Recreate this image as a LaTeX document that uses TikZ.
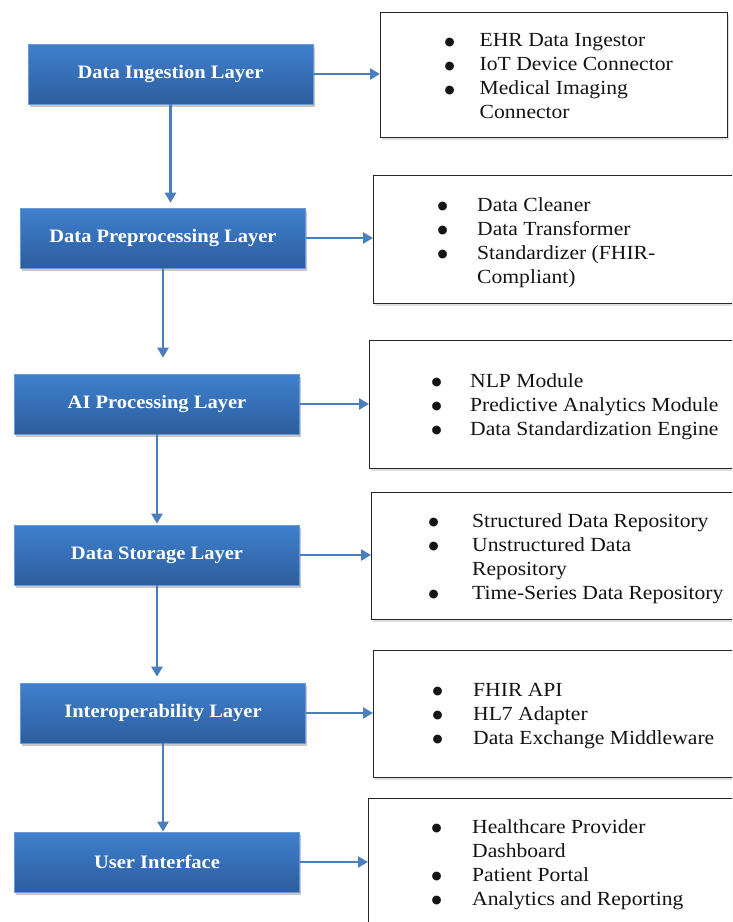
\documentclass[tikz,border=0pt]{standalone}
\usepackage{fontspec}
\setmainfont{Liberation Serif}[FakeStretch=1.08]
\newfontfamily\dotfont{DejaVu Sans}
\usetikzlibrary{arrows.meta,shadows}
\definecolor{boxtop}{HTML}{3F80CE}
\definecolor{boxbot}{HTML}{2D5E9E}
\definecolor{boxedge}{HTML}{6A9AD6}
\definecolor{arrowblue}{HTML}{4A7EBF}
\newcommand{\mkbullets}[2]{\begin{tabular}{@{}p{#1pt}@{}l@{}}#2\end{tabular}}
\newcommand{\bul}{\raisebox{1.8pt}{\dotfont\fontsize{11.5}{14}\selectfont ●}}
\begin{document}
\begin{tikzpicture}[x=1pt,y=-1pt,
  layer/.style={rectangle, minimum width=285pt, minimum height=60pt, inner sep=0pt,
    top color=boxtop, bottom color=boxbot, draw=boxedge, line width=0.6pt,
    text=white, font=\fontsize{19}{22}\selectfont\bfseries,
    drop shadow={shadow xshift=1.5pt, shadow yshift=-2.5pt, fill=black, opacity=0.22}},
  compbox/.style={rectangle, draw=black!85, line width=1.3pt, fill=white,
    anchor=north west, inner sep=0pt, minimum width=420pt,
    drop shadow={shadow xshift=1.5pt, shadow yshift=-2.5pt, fill=black, opacity=0.12}},
  items/.style={anchor=west, inner sep=0pt, text=black!92, font=\fontsize{20}{24}\selectfont},
  flow/.style={draw=arrowblue, line width=2.3pt, -{Triangle[width=11pt,length=10pt]}}]
\useasboundingbox (0,0) rectangle (732,922);
\clip (0,0) rectangle (732,922);

% left layer boxes
\node[layer] (b1) at (170.5,74) {Data Ingestion Layer};
\node[layer] (b2) at (163,238) {Data Preprocessing Layer};
\node[layer] (b3) at (157,404) {AI Processing Layer};
\node[layer] (b4) at (157,555) {Data Storage Layer};
\node[layer] (b5) at (163,713) {Interoperability Layer};
\node[layer] (b6) at (157,862) {User Interface};

% right component boxes
\node[compbox, minimum width=347pt, minimum height=125pt] (r1) at (380,12) {};
\node[compbox, minimum height=128pt] (r2) at (373,175) {};
\node[compbox, minimum height=128pt] (r3) at (369,340) {};
\node[compbox, minimum height=127pt] (r4) at (371,492) {};
\node[compbox, minimum height=127pt] (r5) at (373,650) {};
\node[compbox, minimum height=128pt] (r6) at (368,798) {};

% item lists
\node[items] (t1) at (444.5,78) {\mkbullets{35}{\bul & EHR Data Ingestor\\ \bul & IoT Device Connector\\ \bul & Medical Imaging\\ & Connector}};
\node[items] (t2) at (437.5,242.5) {\mkbullets{39.5}{\bul & Data Cleaner\\ \bul & Data Transformer\\ \bul & Standardizer (FHIR-\\ & Compliant)}};
\node[items] (t3) at (431.5,406.5) {\mkbullets{38.5}{\bul & NLP Module\\ \bul & Predictive Analytics Module\\ \bul & Data Standardization Engine}};
\node[items] (t4) at (428.5,558.5) {\mkbullets{43.5}{\bul & Structured Data Repository\\ \bul & Unstructured Data\\ & Repository\\ \bul & Time-Series Data Repository}};
\node[items] (t5) at (432.5,715.5) {\mkbullets{40.5}{\bul & FHIR API\\ \bul & HL7 Adapter\\ \bul & Data Exchange Middleware}};
\node[items] (t6) at (431.5,864.5) {\mkbullets{40.5}{\bul & Healthcare Provider\\ & Dashboard\\ \bul & Patient Portal\\ \bul & Analytics and Reporting}};

% horizontal arrows
\draw[flow] (b1.east) -- (b1.east -| r1.west);
\draw[flow] (b2.east) -- (b2.east -| r2.west);
\draw[flow] (b3.east) -- (b3.east -| r3.west);
\draw[flow] (b4.east) -- (b4.east -| r4.west);
\draw[flow] (b5.east) -- (b5.east -| r5.west);
\draw[flow] (b6.east) -- (b6.east -| r6.west);

% vertical arrows
\draw[flow, shorten >=5pt] (b1.south) -- (b1.south |- b2.north);
\draw[flow, shorten >=16pt] (b2.south) -- (b2.south |- b3.north);
\draw[flow, shorten >=1pt] (b3.south) -- (b3.south |- b4.north);
\draw[flow, shorten >=6pt] (b4.south) -- (b4.south |- b5.north);
\draw[flow] (b5.south) -- (b5.south |- b6.north);
\end{tikzpicture}
\end{document}
